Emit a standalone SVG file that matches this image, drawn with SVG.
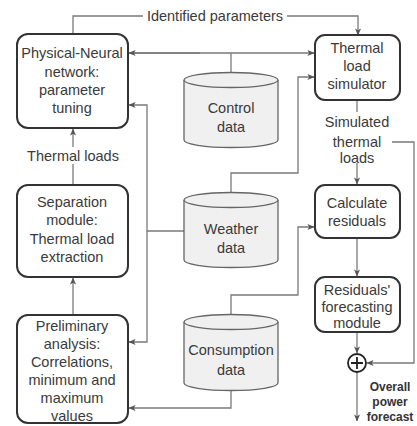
<svg xmlns="http://www.w3.org/2000/svg" width="417" height="426" viewBox="0 0 417 426">
<defs>
<marker id="ah" viewBox="0 0 8 8" refX="7.5" refY="4" markerWidth="7" markerHeight="7" orient="auto" markerUnits="userSpaceOnUse">
<path d="M0,0.5 L8,4 L0,7.5 L2,4 Z" fill="#555"/>
</marker>
</defs>
<style>
.box{fill:#fff;stroke:#333;stroke-width:2}
.cyl{fill:#f0f0f0;stroke:#666;stroke-width:1.3}
.t{font-family:"Liberation Sans",Arial,sans-serif;font-size:14.5px;fill:#3a3a3a;text-anchor:middle}
.b{font-family:"Liberation Sans",Arial,sans-serif;font-size:12px;font-weight:bold;fill:#333;text-anchor:middle}
.c{fill:none;stroke:#7a7a7a;stroke-width:1.3}
</style>
<rect width="417" height="426" fill="#fff"/>
<g id="connectors">
<path class="c" d="M73,34 V16 H143"/>
<path class="c" d="M287,16 H358 V35" marker-end="url(#ah)"/>
<path class="c" d="M129,53 H314" marker-end="url(#ah)"/>
<path class="c" d="M200,53 H129" marker-end="url(#ah)"/>
<path class="c" d="M231,53 V73"/>
<path class="c" d="M231,193 V173 H298 V77 H314" marker-end="url(#ah)"/>
<path class="c" d="M185,231 H147 V105 H129" marker-end="url(#ah)"/>
<path class="c" d="M147,231 V342 H129" marker-end="url(#ah)"/>
<path class="c" d="M231,315 V295 H298 V227 H314" marker-end="url(#ah)"/>
<path class="c" d="M231,390 V408 H129" marker-end="url(#ah)"/>
<path class="c" d="M73,185 V164"/>
<path class="c" d="M73,147 V129" marker-end="url(#ah)"/>
<path class="c" d="M73,315 V278" marker-end="url(#ah)"/>
<path class="c" d="M357,100 V112"/>
<path class="c" d="M357,163 V184" marker-end="url(#ah)"/>
<path class="c" d="M357,238 V276" marker-end="url(#ah)"/>
<path class="c" d="M357,332 V353" marker-end="url(#ah)"/>
<path class="c" d="M392,142 H414 V363 H367" marker-end="url(#ah)"/>
<path class="c" d="M357,372 V421" marker-end="url(#ah)"/>
</g>
<g id="identified-label"><text class="t" x="215" y="21">Identified parameters</text></g>
<g id="physical-neural">
<rect class="box" x="17" y="34" width="111" height="94" rx="11"/>
<text class="t" x="72" y="58">Physical-Neural</text>
<text class="t" x="72" y="77">network:</text>
<text class="t" x="72" y="95">parameter</text>
<text class="t" x="72" y="113">tuning</text>
</g>
<g id="thermal-loads-label"><text class="t" x="73" y="161">Thermal loads</text></g>
<g id="separation">
<rect class="box" x="17" y="185" width="111" height="92" rx="11"/>
<text class="t" x="72" y="207">Separation</text>
<text class="t" x="72" y="225">module:</text>
<text class="t" x="72" y="244">Thermal load</text>
<text class="t" x="72" y="262">extraction</text>
</g>
<g id="preliminary">
<rect class="box" x="17" y="315" width="111" height="108" rx="11"/>
<text class="t" x="72" y="331">Preliminary</text>
<text class="t" x="72" y="349">analysis:</text>
<text class="t" x="72" y="367">Correlations,</text>
<text class="t" x="72" y="385">minimum and</text>
<text class="t" x="72" y="403">maximum</text>
<text class="t" x="72" y="421">values</text>
</g>
<g id="control-data">
<path class="cyl" d="M184,80 V140 A47,7.5 0 0 0 278,140 V80"/>
<ellipse class="cyl" cx="231" cy="80" rx="47" ry="7.5"/>
<text class="t" x="231" y="113">Control</text>
<text class="t" x="231" y="132">data</text>
</g>
<g id="weather-data">
<path class="cyl" d="M184,200 V260 A47,7.5 0 0 0 278,260 V200"/>
<ellipse class="cyl" cx="231" cy="200" rx="47" ry="7.5"/>
<text class="t" x="231" y="234">Weather</text>
<text class="t" x="231" y="253">data</text>
</g>
<g id="consumption-data">
<path class="cyl" d="M184,322 V383 A47,7.5 0 0 0 278,383 V322"/>
<ellipse class="cyl" cx="231" cy="322" rx="47" ry="7.5"/>
<text class="t" x="231" y="355">Consumption</text>
<text class="t" x="231" y="375">data</text>
</g>
<g id="thermal-simulator">
<rect class="box" x="315" y="35" width="85" height="65" rx="10"/>
<text class="t" x="357" y="53">Thermal</text>
<text class="t" x="357" y="71">load</text>
<text class="t" x="357" y="89">simulator</text>
</g>
<g id="simulated-label">
<text class="t" x="357" y="127">Simulated</text>
<text class="t" x="357" y="147">thermal</text>
<text class="t" x="357" y="163">loads</text>
</g>
<g id="calculate-residuals">
<rect class="box" x="315" y="185" width="85" height="53" rx="10"/>
<text class="t" x="357" y="208">Calculate</text>
<text class="t" x="357" y="226">residuals</text>
</g>
<g id="residuals-forecasting">
<rect class="box" x="315" y="277" width="85" height="55" rx="10"/>
<text class="t" x="357" y="295">Residuals'</text>
<text class="t" x="357" y="312">forecasting</text>
<text class="t" x="357" y="328">module</text>
</g>
<g id="sum">
<circle cx="357" cy="363" r="9" fill="#fff" stroke="#222" stroke-width="1.8"/>
<path d="M351,363 H363 M357,357 V369" stroke="#222" stroke-width="1.8"/>
</g>
<g id="overall-label">
<text class="b" x="390" y="391">Overall</text>
<text class="b" x="390" y="406">power</text>
<text class="b" x="390" y="421">forecast</text>
</g>
</svg>
